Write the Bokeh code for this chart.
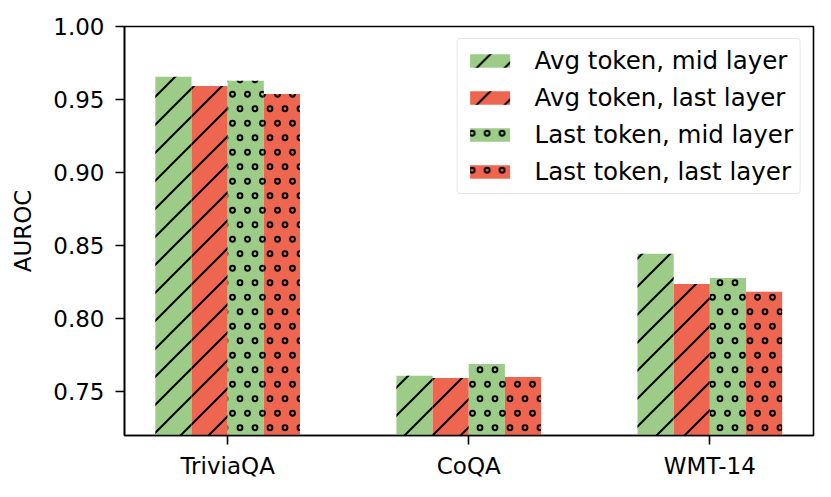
import base64
import numpy as np
from bokeh.plotting import figure
from bokeh.models import (Range1d, FixedTicker, NumeralTickFormatter, Legend, LegendItem,
                          ImageURLTexture)
from bokeh.core.properties import value
from bokeh.embed import file_html
from bokeh.resources import INLINE

categories = ["TriviaQA", "CoQA", "WMT-14"]
series_names = ["Avg token, mid layer", "Avg token, last layer",
                "Last token, mid layer", "Last token, last layer"]
avg_mid = [0.9656, 0.7609, 0.8444]
avg_last = [0.9592, 0.7593, 0.8238]
last_mid = [0.9628, 0.7690, 0.8279]
last_last = [0.9538, 0.7600, 0.8184]
y_ticks = [0.75, 0.80, 0.85, 0.90, 0.95, 1.00]

GREEN = "#9ccc88"
RED = "#ee6650"
FONT = "DejaVu Sans"
FS = "23px"
LFS = "24.5px"


def svg_texture(svg):
    return ImageURLTexture(url="data:image/svg+xml;base64," + base64.b64encode(svg.encode()).decode())


# 45-degree "/" hatch tile
slash_svg = ('<svg xmlns="http://www.w3.org/2000/svg" width="28" height="28">'
             '<path d="M-3,3 L3,-3 M-1,29 L29,-1 M25,31 L31,25" '
             'stroke="black" stroke-width="2" fill="none"/></svg>')
# staggered small rings tile ("o" hatch)
ring_svg = ('<svg xmlns="http://www.w3.org/2000/svg" width="15" height="29">'
            '<g fill="none" stroke="black" stroke-width="2">'
            '<circle cx="7.5" cy="7.25" r="2.4"/>'
            '<circle cx="0" cy="21.75" r="2.4"/>'
            '<circle cx="15" cy="21.75" r="2.4"/>'
            '</g></svg>')
textures = {"slash": svg_texture(slash_svg), "rings": svg_texture(ring_svg)}

p = figure(width=815, height=481, output_backend="svg", toolbar_location=None,
           x_range=Range1d(-0.428, 2.43), y_range=Range1d(0.72, 1.0),
           min_border_left=124, min_border_right=2, min_border_top=26, min_border_bottom=44)

x = np.arange(len(categories))
width = 0.15
offsets = [-0.225, -0.075, 0.075, 0.225]
data = [avg_mid, avg_last, last_mid, last_last]
colors = [GREEN, RED, GREEN, RED]
patterns = ["slash", "slash", "rings", "rings"]

items = []
for vals, off, col, pat, name in zip(data, offsets, colors, patterns, series_names):
    r = p.vbar(x=x + off, top=vals, bottom=0, width=width, fill_color=col, line_color=None,
               hatch_pattern=value(pat), hatch_extra=textures, hatch_color="black",
               hatch_scale=28, hatch_weight=2)
    items.append(LegendItem(label=name, renderers=[r]))

legend = Legend(items=items, location="top_right", margin=12,
                label_text_font=FONT, label_text_font_size=LFS, label_text_color="black",
                glyph_width=50, glyph_height=17, label_height=24, label_standoff=20,
                spacing=8, padding=7,
                border_line_color="#cccccc", border_line_width=1.5, border_radius=4,
                background_fill_alpha=0.8)
p.add_layout(legend)

p.xgrid.visible = False
p.ygrid.visible = False
p.outline_line_color = "black"
p.outline_line_width = 1.6

p.xaxis.ticker = FixedTicker(ticks=list(range(len(categories))))
p.xaxis.major_label_overrides = {i: c for i, c in enumerate(categories)}
p.yaxis.ticker = FixedTicker(ticks=y_ticks)
p.yaxis.formatter = NumeralTickFormatter(format="0.00")
p.yaxis.axis_label = "AUROC"

for ax in [p.xaxis[0], p.yaxis[0]]:
    ax.axis_line_color = "black"
    ax.axis_line_width = 1.6
    ax.major_tick_line_color = "black"
    ax.major_tick_line_width = 1.6
    ax.major_tick_out = 9
    ax.major_tick_in = 0
    ax.minor_tick_line_color = None
    ax.major_label_text_font = FONT
    ax.major_label_text_font_size = FS
    ax.major_label_text_color = "black"
    ax.axis_label_text_font = FONT
    ax.axis_label_text_font_size = FS
    ax.axis_label_text_font_style = "normal"
    ax.axis_label_text_color = "black"
p.yaxis.major_label_standoff = 11
p.yaxis.axis_label_standoff = 14
p.xaxis.major_label_standoff = 8

open("out.html", "w").write(file_html(p, INLINE))
